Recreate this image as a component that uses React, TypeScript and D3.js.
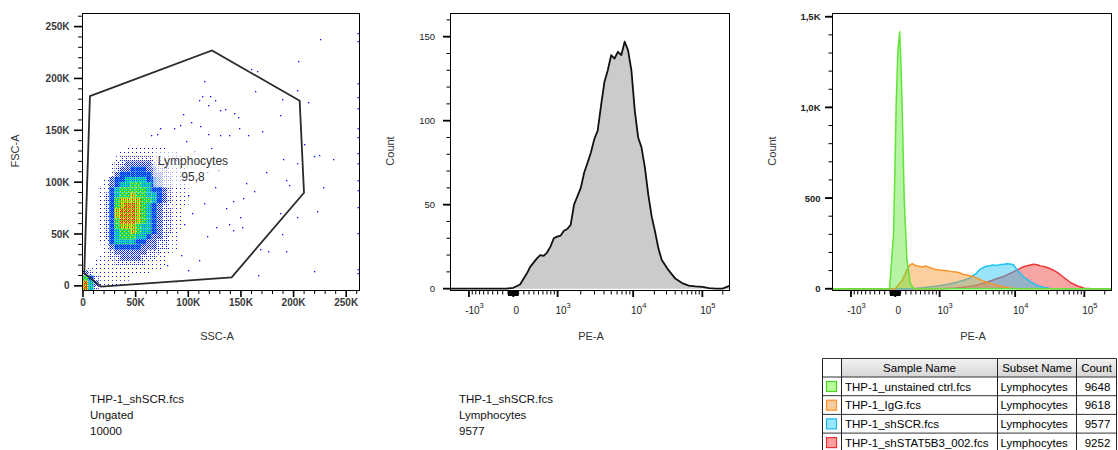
import React from "react";
import * as d3 from "d3";

// ---------- data ----------

// SSC-A / FSC-A density, 5K x 5K bins, level 0 (empty) .. 8 (hottest)
// rows from FSC 130K (top) down to -5K, columns SSC 0 .. 100K
const densityBin = 5000;
const densityRowFsc = [130000, 125000, 120000, 115000, 110000, 105000, 100000, 95000, 90000, 85000,
  80000, 75000, 70000, 65000, 60000, 55000, 50000, 45000, 40000, 35000, 30000, 25000, 20000, 15000,
  10000, 5000, 0, -5000];
const densityRows = [
  "00000000111111110000",
  "00000001111111111100",
  "00000012222221111110",
  "00000122333332211111",
  "00000123344433221111",
  "00000134444443322111",
  "00001344555544322111",
  "00001345566554322111",
  "00011456666654432111",
  "00012456676655432111",
  "00012467777665432111",
  "00012467887654321111",
  "00012478887654322110",
  "00012478887654322110",
  "00012468887654322110",
  "00012467776554322110",
  "00012456676554322100",
  "00012456665543321100",
  "00011455554433221100",
  "00001344444333221100",
  "00001233333322211000",
  "00011223333222110000",
  "00111122222211110000",
  "01111111111111100000",
  "32111111111110000000",
  "64211111100000000000",
  "85311111000000000000",
  "85200000000000000000",
];

// single events outside the main cloud [SSC-A, FSC-A]
const scatterEvents: [number, number][] = [
  [225000, 238000], [204000, 217000], [160000, 209000], [165000, 207000], [115000, 198000],
  [113000, 183000], [121000, 183000], [125000, 179000], [110000, 179000], [119000, 174000],
  [163000, 188000], [189000, 180000], [203500, 189000], [214000, 177000], [130000, 170000],
  [135000, 171000], [143000, 167000], [147000, 163000], [95000, 166000], [92000, 155000],
  [86000, 152000], [73000, 152000], [65000, 145000], [70000, 146000], [103000, 158000],
  [111000, 154000], [119000, 146000], [130000, 145000], [139000, 145000], [148000, 152000],
  [157000, 145000], [170000, 149000], [187000, 165000], [210000, 137000], [219000, 125000],
  [224000, 126000], [237000, 122000], [190000, 122000], [203000, 118000], [174000, 110000],
  [193000, 102000], [196000, 97000], [155000, 99000], [162000, 91000], [152000, 85000],
  [142000, 82000], [136000, 75000], [149000, 66000], [139000, 60000], [126000, 57000],
  [151000, 57000], [142000, 54000], [187000, 70000], [203000, 66000], [189000, 50000],
  [193000, 34000], [168000, 36000], [176000, 34000], [166000, 10000], [219000, 14000],
  [228000, 95000], [222000, 72000], [105000, 130000], [112000, 120000], [118000, 110000],
  [108000, 104000], [125000, 95000], [100000, 88000], [115000, 80000], [128000, 112000],
  [98000, 140000], [122000, 133000], [88000, 5000], [93000, 30000], [80000, 20000],
  [100000, 15000], [110000, 25000], [104000, 70000], [96000, 60000], [118000, 48000],
];
// events piled up at SSC-A maximum
const saturatedSscFsc = [243500, 236400, 196000, 181800, 171200, 151900, 143200, 127800, 118200,
  102200, 92500, 76400, 50700, 16000, 12000];

const gateVertices: [number, number][] = [
  [6600, 183000], [122500, 227000], [205800, 178500], [209900, 89800],
  [141200, 8200], [17100, -800], [1200, 12100],
];
const gateName = "Lymphocytes";
const gateFrequency = "95,8";

// PE-A histogram of THP-1_shSCR, Lymphocytes [PE-A, count]
const shScrHist: [number, number][] = [
  [-1800, 0], [-127, 0], [0, 0.5], [127, 2.5], [257, 9], [324, 13], [393, 15.5], [465, 18],
  [539, 20], [618, 19.5], [701, 21.5], [790, 25], [884, 30], [986, 31], [1095, 31.5], [1215, 34.5],
  [1344, 35.5], [1486, 38], [1642, 50], [1813, 55], [2002, 60], [2211, 69], [2443, 75], [2700, 81],
  [2986, 89], [3303, 94], [3658, 109], [4054, 123], [4495, 130], [4988, 139], [5539, 137],
  [6155, 141], [6845, 139], [7618, 147], [8482, 142], [9451, 130], [10537, 106], [11752, 90],
  [13116, 84], [14645, 72], [16358, 56], [18280, 43], [20436, 34], [22850, 24], [25563, 17],
  [32008, 11], [40130, 6], [50340, 3.3], [63200, 1.8], [79380, 1.4], [99750, 1.1], [125400, 0.3],
  [157660, 0], [198300, 0], [262144, 2],
];

// overlay histograms [PE-A, count]
const unstainedHist: [number, number][] = [
  [-1800, 0], [-107, 0], [-32, 305], [0, 760], [19, 1041], [50, 1320], [82, 1417], [105, 1250],
  [126, 1041], [169, 488], [221, 159], [286, 31], [351, 0], [262144, 0],
];
const iggHist: [number, number][] = [
  [-1800, 0], [0, 0], [127, 45], [191, 85], [257, 125], [324, 138], [393, 128], [465, 124],
  [539, 120], [618, 125], [701, 118], [790, 112], [884, 105], [986, 104], [1095, 100], [1215, 101],
  [1344, 97], [1486, 93], [1642, 92], [1813, 88], [2002, 80], [2211, 77], [2443, 72], [2700, 67],
  [2986, 60], [3303, 52], [3658, 43], [4495, 31], [5539, 20], [6845, 11], [8482, 4], [10537, 0],
  [262144, 0],
];
const scrHist: [number, number][] = [
  [-1800, 0], [257, 0], [393, 2], [539, 5], [701, 9], [884, 14], [1095, 19], [1344, 26], [1642, 34],
  [2002, 45], [2443, 58], [2986, 85], [3303, 105], [3658, 116], [4054, 124], [4495, 127],
  [4988, 131], [5539, 128], [6155, 133], [6845, 134], [7618, 138], [8482, 136], [9451, 132],
  [10537, 106], [11752, 85], [13116, 66], [16358, 39], [20436, 18], [25563, 7], [32008, 1],
  [40130, 0], [262144, 0],
];
const stat5bHist: [number, number][] = [
  [-1800, 0], [1095, 0], [1344, 2], [1642, 4], [2002, 8], [2443, 13], [2986, 19], [3658, 29],
  [4495, 41], [5539, 55], [6845, 67], [8482, 85], [10537, 103], [13116, 121], [16358, 131],
  [18280, 135], [20436, 132], [22850, 126], [25563, 123], [28600, 117], [32008, 110], [40130, 90],
  [50340, 62], [63200, 33], [79380, 15], [99750, 3], [125400, 0], [240000, 0], [262144, 5],
];

const sampleNames = ["THP-1_unstained ctrl.fcs", "THP-1_IgG.fcs", "THP-1_shSCR.fcs", "THP-1_shSTAT5B3_002.fcs"];
const subsetNames = ["Lymphocytes", "Lymphocytes", "Lymphocytes", "Lymphocytes"];
const sampleCounts = [9648, 9618, 9577, 9252];
const overlayHists = [unstainedHist, iggHist, scrHist, stat5bHist];

const scatterTicks = [0, 50000, 100000, 150000, 200000, 250000];
const scatterTickLabels = ["0", "50K", "100K", "150K", "200K", "250K"];
const countTicks = [0, 50, 100, 150];
const overlayCountTicks = [0, 500, 1000, 1500];
const overlayCountLabels = ["0", "500", "1,0K", "1,5K"];
const peMajorTicks = [-1000, 0, 1000, 10000, 100000];
const peMajorLabels: [string, string][] = [["-10", "3"], ["0", ""], ["10", "3"], ["10", "4"], ["10", "5"]];

// ---------- styles ----------
const FONT = "'Liberation Sans', Arial, Helvetica, sans-serif";
const lineColors = ["#5fe535", "#f7952a", "#1ec3f2", "#f03838"];
const swatchFill = ["#b6ff99", "#ffcc99", "#99e6ff", "#ff9e9e"];
const swatchStroke = ["#4fd21f", "#ff9030", "#1ab8ea", "#ee3030"];
const BLUE = "#0010ff", LBLUE = "#0a78ff", CYAN = "#00d4e0", GREEN = "#28d828", YELLOW = "#f0f000", ORANGE = "#ff8c00", RED = "#ff1010";
// pixel inks per density level, on a 4x4 ordered-dither tile (counts out of 16)
const densityInks: [number, string][][] = [
  [[1, BLUE]],
  [[3, BLUE]],
  [[7, BLUE], [1, LBLUE]],
  [[8, BLUE], [5, LBLUE], [3, CYAN]],
  [[4, LBLUE], [9, CYAN], [3, GREEN]],
  [[4, CYAN], [10, GREEN], [2, YELLOW]],
  [[5, GREEN], [7, YELLOW], [3, ORANGE], [1, RED]],
  [[3, GREEN], [4, YELLOW], [4, ORANGE], [5, RED]],
];
const BAYER = [0, 8, 2, 10, 12, 4, 14, 6, 3, 11, 1, 9, 15, 7, 13, 5];

const P1 = { left: 83, right: 359, top: 14, bottom: 290 };
const P2 = { left: 451, right: 729, top: 14, bottom: 290 };
const P3 = { left: 833, right: 1111, top: 14, bottom: 290 };

// ---------- biexponential (logicle-like) display transform ----------
const BX_P = 2.5;
const BX_C = 156.9;
function biexInverse(u: number) {
  const a = Math.abs(u);
  const s = Math.pow(10, a) - BX_P * BX_P * Math.pow(10, -a / BX_P) + BX_P * BX_P - 1;
  return Math.sign(u) * s * BX_C;
}
function biex(v: number) {
  let lo = -3, hi = 4;
  for (let i = 0; i < 50; i++) {
    const mid = (lo + hi) / 2;
    if (biexInverse(mid) < v) lo = mid; else hi = mid;
  }
  return (lo + hi) / 2;
}
const BX_DOMAIN = [-0.923, 3.196];

function Frame({ p }: { p: typeof P1 }) {
  return <rect x={p.left - 0.5} y={p.top - 0.5} width={p.right - p.left + 1} height={p.bottom - p.top + 1}
    fill="none" stroke="#000" strokeWidth={1} />;
}

function DensityPatterns() {
  return (
    <>
      {densityInks.map((inks, li) => {
        const cells: JSX.Element[] = [];
        BAYER.forEach((rank, idx) => {
          let acc = 0;
          let color: string | null = null;
          for (const [n, c] of inks) {
            if (rank < acc + n) { color = c; break; }
            acc += n;
          }
          if (color) cells.push(<rect key={idx} x={idx % 4} y={Math.floor(idx / 4)} width={1} height={1} fill={color} />);
        });
        return <pattern key={li} id={`dens${li + 1}`} width={4} height={4} patternUnits="userSpaceOnUse">{cells}</pattern>;
      })}
    </>
  );
}

function ScatterPanel() {
  const x = d3.scaleLinear().domain([0, 262144]).range([P1.left, P1.right]);
  const y = d3.scaleLinear().domain([-4000, 262144]).range([P1.bottom, P1.top]);
  const cw = x(densityBin) - x(0);
  const ch = y(0) - y(densityBin);
  const gatePath = d3.line<[number, number]>().x(d => x(d[0])).y(d => y(d[1])).curve(d3.curveLinearClosed)(gateVertices);
  const minor = d3.range(0, 262144, 10000);
  return (
    <g>
      <clipPath id="clip1"><rect x={P1.left} y={P1.top} width={P1.right - P1.left} height={P1.bottom - P1.top} /></clipPath>
      <g clipPath="url(#clip1)">
        {densityRows.map((row, ri) =>
          row.split("").map((ch0, ci) => {
            const lvl = +ch0;
            if (!lvl) return null;
            return <rect key={`${ri}-${ci}`} x={x(ci * densityBin)} y={y(densityRowFsc[ri] + densityBin)}
              width={cw} height={ch} fill={`url(#dens${lvl})`} />;
          }))}
        {scatterEvents.map((d, i) => (
          <rect key={i} x={Math.round(x(d[0]))} y={Math.round(y(d[1]))} width={1.3} height={1.3} fill={BLUE} />
        ))}
        {saturatedSscFsc.map((f, i) => (
          <rect key={i} x={P1.right - 1.5} y={Math.round(y(f))} width={1.3} height={1.3} fill={BLUE} />
        ))}
        <path d={gatePath!} fill="none" stroke="#2a2a2a" strokeWidth={1.8} strokeLinejoin="miter" />
        <rect x={153} y={149} width={80} height={38} fill="#fff" opacity={0.6} />
        <text x={193} y={165} textAnchor="middle" fontSize={12} fill="#333" fontFamily={FONT}>{gateName}</text>
        <text x={193} y={181} textAnchor="middle" fontSize={12} fill="#333" fontFamily={FONT}>{gateFrequency}</text>
      </g>
      <Frame p={P1} />
      {minor.map(t => (
        <g key={t}>
          <line x1={x(t)} x2={x(t)} y1={P1.bottom + 0.5} y2={P1.bottom + (t % 50000 === 0 ? 7 : 4)} stroke="#000" strokeWidth={t % 50000 === 0 ? 1.6 : 1} />
          <line y1={y(t)} y2={y(t)} x1={P1.left - 0.5} x2={P1.left - (t % 50000 === 0 ? 9 : 5)} stroke="#000" strokeWidth={t % 50000 === 0 ? 1.6 : 1} />
        </g>
      ))}
      {scatterTicks.map((t, i) => (
        <g key={t} fontFamily={FONT} fontSize={10} fontWeight={700} fill="#3a3a3a">
          <text x={x(t)} y={305.5} textAnchor="middle">{scatterTickLabels[i]}</text>
          <text x={P1.left - 13.5} y={y(t)} textAnchor="end" dominantBaseline="central">{scatterTickLabels[i]}</text>
        </g>
      ))}
      <text x={217} y={339.5} textAnchor="middle" fontSize={11} fill="#333" fontFamily={FONT}>SSC-A</text>
      <text transform="translate(19,151) rotate(-90)" textAnchor="middle" fontSize={11} fill="#333" fontFamily={FONT}>FSC-A</text>
    </g>
  );
}

function PeAxis({ p }: { p: typeof P2 }) {
  const x = d3.scaleLinear().domain(BX_DOMAIN).range([p.left, p.right]);
  const nearZero = [...d3.range(-90, 0, 10), ...d3.range(10, 100, 10)];
  const minor = [
    ...d3.range(-900, 0, 100), ...d3.range(100, 1000, 100), ...d3.range(2000, 10000, 1000),
    ...d3.range(20000, 100000, 10000), 200000,
  ];
  return (
    <g>
      {minor.map(v => {
        const px = x(biex(v));
        if (px < p.left || px > p.right) return null;
        return <line key={v} x1={px} x2={px} y1={p.bottom + 0.5} y2={p.bottom + 4.5} stroke="#000" strokeWidth={1} />;
      })}
      {nearZero.map(v => {
        const px = x(biex(v));
        return <line key={v} x1={px} x2={px} y1={p.bottom + 0.5} y2={p.bottom + 6} stroke="#000" strokeWidth={1} />;
      })}
      {peMajorTicks.map((v, i) => {
        const px = x(biex(v));
        const [base, exp] = peMajorLabels[i];
        return (
          <g key={v}>
            <line x1={px} x2={px} y1={p.bottom + 0.5} y2={p.bottom + 7} stroke="#000" strokeWidth={1.8} />
            <text x={px + (exp ? 5.5 : 3)} y={313.5} textAnchor="middle" fontSize={10} fill="#222" fontFamily={FONT}>
              {base}{exp && <tspan dy={-6} fontSize={7.5}>{exp}</tspan>}
            </text>
          </g>
        );
      })}
      <text x={(p.left + p.right) / 2 + 1} y={340} textAnchor="middle" fontSize={11} fill="#333" fontFamily={FONT}>PE-A</text>
    </g>
  );
}

function CountAxis({ p, y, minorStep, majors, labels, max, labelGap, bold }:
  { p: typeof P2; y: d3.ScaleLinear<number, number>; minorStep: number; majors: number[]; labels: string[]; max: number; labelGap: number; bold: boolean }) {
  return (
    <g>
      {d3.range(0, max, minorStep).map(t => (
        <line key={t} y1={y(t)} y2={y(t)} x1={p.left - 0.5} x2={p.left - 4.5} stroke="#000" strokeWidth={1} />
      ))}
      {majors.map((t, i) => (
        <g key={t}>
          <line y1={y(t)} y2={y(t)} x1={p.left - 0.5} x2={p.left - 8} stroke="#000" strokeWidth={1.8} />
          <text x={p.left - labelGap} y={y(t)} textAnchor="end" dominantBaseline="central" fontSize={9.5}
            fontWeight={bold ? 700 : 400} fill="#222" fontFamily={FONT}>{labels[i]}</text>
        </g>
      ))}
      <text transform={`translate(${p.left - 57},151) rotate(-90)`} textAnchor="middle" fontSize={11} fill="#333" fontFamily={FONT}>Count</text>
    </g>
  );
}

function HistogramPanel() {
  const x = d3.scaleLinear().domain(BX_DOMAIN).range([P2.left, P2.right]);
  const y = d3.scaleLinear().domain([-0.8, 163.5]).range([P2.bottom, P2.top]);
  const area = d3.area<[number, number]>().x(d => x(biex(d[0]))).y0(y(0)).y1(d => y(d[1]));
  const line = d3.line<[number, number]>().x(d => x(biex(d[0]))).y(d => y(d[1]));
  return (
    <g>
      <clipPath id="clip2"><rect x={P2.left} y={P2.top} width={P2.right - P2.left} height={P2.bottom - P2.top} /></clipPath>
      <g clipPath="url(#clip2)">
        <path d={area(shScrHist)!} fill="#cbcbcb" />
        <path d={line(shScrHist)!} fill="none" stroke="#111" strokeWidth={1.8} strokeLinejoin="round" />
      </g>
      <Frame p={P2} />
      <PeAxis p={P2} />
      <CountAxis p={P2} y={y} minorStep={10} majors={countTicks} labels={countTicks.map(String)} max={165} labelGap={16} bold={false} />
    </g>
  );
}

function OverlayPanel() {
  const x = d3.scaleLinear().domain(BX_DOMAIN).range([P3.left, P3.right]);
  const y = d3.scaleLinear().domain([-7, 1515]).range([P3.bottom, P3.top]);
  const area = d3.area<[number, number]>().x(d => x(biex(d[0]))).y0(y(0)).y1(d => y(d[1]));
  const line = d3.line<[number, number]>().x(d => x(biex(d[0]))).y(d => y(d[1]));
  const drawOrder = [3, 2, 1, 0];
  return (
    <g>
      <clipPath id="clip3"><rect x={P3.left} y={P3.top} width={P3.right - P3.left} height={P3.bottom - P3.top} /></clipPath>
      <g clipPath="url(#clip3)">
        {drawOrder.map(i => (
          <g key={i}>
            <path d={area(overlayHists[i])!} fill={lineColors[i]} fillOpacity={0.45} />
            <path d={line(overlayHists[i])!} fill="none" stroke={lineColors[i]} strokeWidth={1.5} strokeLinejoin="round" />
          </g>
        ))}
      </g>
      <Frame p={P3} />
      <PeAxis p={P3} />
      <CountAxis p={P3} y={y} minorStep={100} majors={overlayCountTicks} labels={overlayCountLabels} max={1515} labelGap={12.5} bold={true} />
    </g>
  );
}

function SampleTable() {
  const cols = [822.5, 841.5, 997.5, 1076.5, 1116.5];
  const top = 358.5, headH = 18.5, rowH = 18.7;
  const rowTop = (i: number) => top + headH + i * rowH;
  const bottom = rowTop(sampleNames.length);
  return (
    <g fontFamily={FONT} fontSize={11.5} fill="#000">
      <defs>
        <linearGradient id="head" x1="0" x2="0" y1="0" y2="1">
          <stop offset="0" stopColor="#f2f2f2" />
          <stop offset="1" stopColor="#d6d6d6" />
        </linearGradient>
      </defs>
      <rect x={cols[1]} y={top} width={cols[4] - cols[1]} height={headH} fill="url(#head)" />
      <text x={(cols[1] + cols[2]) / 2} y={top + 13} textAnchor="middle">Sample Name</text>
      <text x={(cols[2] + cols[3]) / 2} y={top + 13} textAnchor="middle">Subset Name</text>
      <text x={(cols[3] + cols[4]) / 2} y={top + 13} textAnchor="middle">Count</text>
      {sampleNames.map((name, i) => (
        <g key={name}>
          <rect x={826.5} y={rowTop(i) + 4.5} width={10} height={10} fill={swatchFill[i]} stroke={swatchStroke[i]} strokeWidth={1.2} />
          <text x={cols[1] + 3.5} y={rowTop(i) + 13.5}>{name}</text>
          <text x={cols[2] + 3} y={rowTop(i) + 13.5}>{subsetNames[i]}</text>
          <text x={(cols[3] + cols[4]) / 2 + 1} y={rowTop(i) + 13.5} textAnchor="middle">{sampleCounts[i]}</text>
        </g>
      ))}
      {[top, top + headH, ...sampleNames.map((_, i) => rowTop(i + 1))].map((yy, i) => (
        <line key={i} x1={cols[0]} x2={cols[4]} y1={yy} y2={yy} stroke="#333" strokeWidth={1} />
      ))}
      {cols.map(c => (
        <line key={c} x1={c} x2={c} y1={top} y2={bottom} stroke="#222" strokeWidth={1} />
      ))}
    </g>
  );
}

function InfoBlock({ x, lines }: { x: number; lines: string[] }) {
  return (
    <g fontFamily={FONT} fontSize={11.5} fill="#111">
      {lines.map((l, i) => <text key={i} x={x} y={402.5 + i * 16.3}>{l}</text>)}
    </g>
  );
}

export default function App() {
  return (
    <svg width={1118} height={450} viewBox="0 0 1118 450"
      style={{ position: "absolute", left: 0, top: 0, background: "#fff", display: "block" }}>
      <defs><DensityPatterns /></defs>
      <rect width={1118} height={450} fill="#fff" />
      <ScatterPanel />
      <HistogramPanel />
      <OverlayPanel />
      <InfoBlock x={90} lines={["THP-1_shSCR.fcs", "Ungated", "10000"]} />
      <InfoBlock x={459} lines={["THP-1_shSCR.fcs", "Lymphocytes", String(sampleCounts[2])]} />
      <SampleTable />
    </svg>
  );
}
